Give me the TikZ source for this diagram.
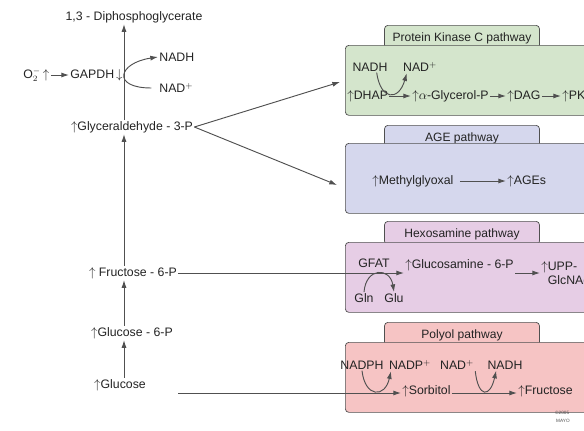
\documentclass[tikz,border=0pt]{standalone}
\usepackage{fontspec}
\setmainfont{Liberation Sans}
\usetikzlibrary{positioning,arrows.meta}
\definecolor{pathLine}{RGB}{80,80,80}
\definecolor{pathText}{RGB}{35,35,35}
\definecolor{pkcFill}{RGB}{212,229,204}
\definecolor{ageFill}{RGB}{213,215,237}
\definecolor{hexFill}{RGB}{230,205,229}
\definecolor{polFill}{RGB}{246,196,196}
\newcommand{\upar}{$\uparrow$}

\begin{document}
\begin{tikzpicture}[x=0.3mm,y=-0.3mm,
      lbl/.style={font=\fontsize{10.5}{12}\selectfont,text=pathText,inner sep=1pt},
      tab/.style={draw=pathLine,rounded corners=3pt,line width=0.6pt,minimum width=46.5mm,minimum height=7mm,anchor=north,text depth=0pt,text height=7pt,
        font=\fontsize{10.3}{12}\selectfont,text=pathText,inner sep=0pt},
      panel/.style={draw=pathLine,rounded corners=3pt,line width=0.6pt,minimum width=80mm,minimum height=21mm,anchor=north west},
      arr/.style={-{Latex[length=2.3mm,width=1.5mm]},pathLine,line width=0.8pt},
      tiny/.style={font=\fontsize{4}{5}\selectfont,text=pathLine,inner sep=0pt,anchor=west}]
    \useasboundingbox (0,0) rectangle (584,430);
    \clip (0,0) rectangle (584,430);
    \coordinate (ax) at (124,0);
    % glycolysis column
    \node[lbl] (dpg) at (134,17) {1,3 - Diphosphoglycerate};
    \node[lbl,anchor=west] (o2) at (22,75) {O$_2^-$\,\upar};
    \node[lbl,anchor=west] (gapdh) at (69,75) {GAPDH\,$\downarrow$};
    \node[lbl,anchor=west] (nadh1) at (158,57) {NADH};
    \node[lbl,anchor=west] (nad1) at (158,88) {NAD$^+$};
    \node[lbl] (gap) at (132,127) {\upar Glyceraldehyde - 3-P};
    \node[lbl] (f6p) at (133,273) {\upar\ Fructose - 6-P};
    \node[lbl] (g6p) at (132,333) {\upar Glucose - 6-P};
    \node[lbl] (glc) at (120,385) {\upar Glucose};
    \coordinate (glcout) at (178,393);
    \draw[arr] (glc.north -| ax) -- (g6p.south -| ax);
    \draw[arr] (g6p.north -| ax) -- (f6p.south -| ax);
    \draw[arr] (f6p.north -| ax) -- (gap.south -| ax);
    \draw[arr] (gap.north -| ax) -- (dpg.south -| ax);
    \draw[arr] (o2) -- (gapdh);
    \draw[arr] ([xshift=-2mm]nad1.west) .. controls +(-40,0) and +(-40,6) .. (nadh1.west);
    % pathway panels
    \node[tab,fill=pkcFill] (pkctab) at (462,25) {Protein Kinase C pathway};
    \node[panel,fill=pkcFill] (pkc) at (345,45) {};
    \node[tab,fill=ageFill] (agetab) at (462,125) {AGE pathway};
    \node[panel,fill=ageFill] (age) at (345,143) {};
    \node[tab,fill=hexFill] (hextab) at (462,221) {Hexosamine pathway};
    \node[panel,fill=hexFill] (hex) at (345,242) {};
    \node[tab,fill=polFill] (poltab) at (462,322) {Polyol pathway};
    \node[panel,fill=polFill] (pol) at (345,342) {};
    \coordinate (pkcin) at (340,82);
    \coordinate (agein) at (337,185);
    \draw[arr] (gap.east) -- (pkcin);
    \draw[arr] (gap.east) -- (agein);
    % protein kinase C
    \node[lbl] (nadh2) at (370,67) {NADH};
    \node[lbl] (nad2) at (420,67) {NAD$^+$};
    \node[lbl,anchor=west] (dhap) at (346,96) {\upar DHAP};
    \node[lbl,anchor=west] (agp) at (411,96) {\upar$\alpha$-Glycerol-P};
    \node[lbl,anchor=west] (dag) at (506,96) {\upar DAG};
    \node[lbl,anchor=west] (pkcn) at (561,96) {\upar PKC};
    \draw[arr] (dhap) -- (agp);
    \draw[arr] (agp) -- (dag);
    \draw[arr] (dag) -- (pkcn);
    \draw[arr] ([xshift=2mm]nadh2.south) .. controls +(4,28) and +(-8,28) .. ([xshift=1.5mm]nad2.south west);
    % AGE
    \node[lbl,anchor=west] (mgo) at (371,181) {\upar Methylglyoxal};
    \node[lbl,anchor=west] (ages) at (506,181) {\upar AGEs};
    \draw[arr] ([xshift=1.5mm]mgo.east) -- (ages);
    % hexosamine
    \node[lbl] (gfat) at (374,263) {GFAT};
    \node[lbl,anchor=west] (gsm) at (404,265) {\upar Glucosamine - 6-P};
    \node[lbl,anchor=west,align=left] (upp) at (540,273) {\upar UPP-\\\hphantom{\upar}GlcNAc};
    \node[lbl] (gln) at (364,298) {Gln};
    \node[lbl] (glu) at (394,298) {Glu};
    \draw[arr] (f6p.east) -- (f6p.east -| gsm.west);
    \draw[arr] (gsm.east |- upp.west) -- (upp.west);
    \draw[arr] (gln.north) .. controls +(2,-25) and +(-4,-25) .. (glu.north);
    % polyol
    \node[lbl] (nadph) at (362,365) {NADPH};
    \node[lbl] (nadp) at (410,365) {NADP$^+$};
    \node[lbl] (nad3) at (457,365) {NAD$^+$};
    \node[lbl] (nadh3) at (505,365) {NADH};
    \node[lbl,anchor=west] (sorb) at (401,391) {\upar Sorbitol};
    \node[lbl,anchor=west] (fru) at (517,391) {\upar Fructose};
    \draw[arr] (glcout) -- (glcout -| sorb.west);
    \draw[arr] (sorb.east |- glcout) -- (fru.west |- glcout);
    \draw[arr] (nadph.south) .. controls +(3,27) and +(-6,27) .. ([xshift=1mm]nadp.south west);
    \draw[arr] (nad3.south east) .. controls +(3,27) and +(-6,27) .. ([xshift=3mm]nadh3.south west);
    % credit
    \node[tiny] (copy) at (555,413) {\copyright2005};
    \node[tiny] (mayo) at (556,421) {MAYO};
  \end{tikzpicture}
\end{document}
